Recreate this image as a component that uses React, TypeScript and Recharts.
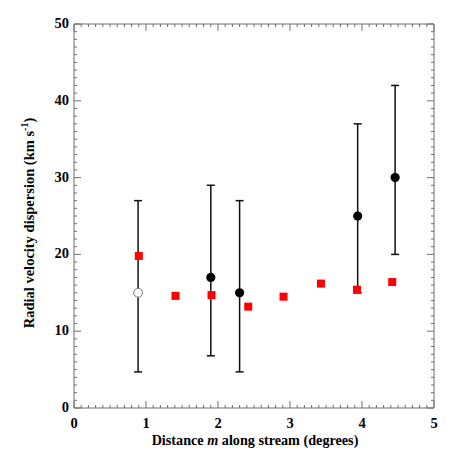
import React from 'react';
import { ScatterChart, Scatter, XAxis, YAxis, ErrorBar } from 'recharts';

// Data
const openX = [0.89];
const openY = [15];
const openLow = [4.7];
const openHigh = [27];

const filledX = [1.9, 2.3, 3.94, 4.46];
const filledY = [17, 15, 25, 30];
const filledLow = [6.8, 4.7, 15, 20];
const filledHigh = [29, 27, 37, 42];

const redX = [0.9, 1.41, 1.91, 2.42, 2.91, 3.43, 3.93, 4.42];
const redY = [19.8, 14.6, 14.7, 13.2, 14.5, 16.2, 15.4, 16.4];

const xMajorTicks = [0, 1, 2, 3, 4, 5];
const xTickLabels = ['0', '1', '2', '3', '4', '5'];
const yMajorTicks = [0, 10, 20, 30, 40, 50];
const yTickLabels = ['0', '10', '20', '30', '40', '50'];

const xMinorStep = 0.1;
const yMinorStep = 1;

const xAllTicks: number[] = [];
for (let i = 0; i <= 50; i++) xAllTicks.push(Math.round(i * xMinorStep * 10) / 10);
const yAllTicks: number[] = [];
for (let i = 0; i <= 50; i++) yAllTicks.push(i * yMinorStep);

const openData = openX.map((x, i) => ({ x, y: openY[i], err: [openY[i] - openLow[i], openHigh[i] - openY[i]] }));
const filledData = filledX.map((x, i) => ({ x, y: filledY[i], err: [filledY[i] - filledLow[i], filledHigh[i] - filledY[i]] }));
const redData = redX.map((x, i) => ({ x, y: redY[i] }));

const W = 458;
const H = 458;
const PL = 74;
const PR = 434;
const PT = 24;
const PB = 408;
const AX = 1; // axis thickness reserved
const AXIS = '#6e6e6e';
const FONT = '"Liberation Serif", "Times New Roman", serif';

const majorIdx = (v: number, arr: number[]) => arr.findIndex((m) => Math.abs(m - v) < 1e-6);

const BottomTick = (props: any) => {
  const { x, payload } = props;
  const idx = majorIdx(payload.value, xMajorTicks);
  const major = idx >= 0;
  return (
    <g>
      <line x1={x} x2={x} y1={PB} y2={PB - (major ? 7 : 3)} stroke={AXIS} strokeWidth={1} />
      {major && (
        <text x={x} y={PB + 20} textAnchor="middle" fontFamily={FONT} fontWeight="bold" fontSize={14.5} fill="#000">
          {xTickLabels[idx]}
        </text>
      )}
    </g>
  );
};

const TopTick = (props: any) => {
  const { x, payload } = props;
  const major = majorIdx(payload.value, xMajorTicks) >= 0;
  return <line x1={x} x2={x} y1={PT} y2={PT + (major ? 7 : 3)} stroke={AXIS} strokeWidth={1} />;
};

const LeftTick = (props: any) => {
  const { y, payload } = props;
  const idx = majorIdx(payload.value, yMajorTicks);
  const major = idx >= 0;
  return (
    <g>
      <line x1={PL} x2={PL + (major ? 7 : 3)} y1={y} y2={y} stroke={AXIS} strokeWidth={1} />
      {major && (
        <text x={PL - 5} y={y + 4} textAnchor="end" fontFamily={FONT} fontWeight="bold" fontSize={14.5} fill="#000">
          {yTickLabels[idx]}
        </text>
      )}
    </g>
  );
};

const RightTick = (props: any) => {
  const { y, payload } = props;
  const major = majorIdx(payload.value, yMajorTicks) >= 0;
  return <line x1={PR} x2={PR - (major ? 7 : 3)} y1={y} y2={y} stroke={AXIS} strokeWidth={1} />;
};

const FilledCircle = (props: any) => {
  const { cx, cy } = props;
  return <circle cx={cx} cy={cy} r={4.6} fill="#000" />;
};
const OpenCircle = (props: any) => {
  const { cx, cy } = props;
  return <circle cx={cx} cy={cy} r={4.4} fill="#fff" stroke="#777" strokeWidth={1} />;
};
const RedSquare = (props: any) => {
  const { cx, cy } = props;
  return <rect x={cx - 4} y={cy - 4} width={8} height={8} fill="#ff0000" />;
};

export default function App() {
  return (
    <div style={{ position: 'absolute', left: 0, top: 0, width: W, height: H, background: '#fff' }}>
      <ScatterChart
        width={W}
        height={H}
        margin={{ top: PT - AX, right: W - PR - AX, bottom: H - PB - AX, left: PL - AX }}
      >
        <XAxis
          xAxisId="bottom"
          type="number"
          dataKey="x"
          domain={[0, 5]}
          ticks={xAllTicks}
          interval={0}
          height={AX}
          orientation="bottom"
          axisLine={{ stroke: AXIS }}
          tickLine={false}
          tick={<BottomTick />}
          allowDataOverflow
        />
        <XAxis
          xAxisId="top"
          type="number"
          dataKey="x"
          domain={[0, 5]}
          ticks={xAllTicks}
          interval={0}
          height={AX}
          orientation="top"
          axisLine={{ stroke: AXIS }}
          tickLine={false}
          tick={<TopTick />}
          allowDataOverflow
        />
        <YAxis
          yAxisId="left"
          type="number"
          dataKey="y"
          domain={[0, 50]}
          ticks={yAllTicks}
          interval={0}
          width={AX}
          orientation="left"
          axisLine={{ stroke: AXIS }}
          tickLine={false}
          tick={<LeftTick />}
          allowDataOverflow
        />
        <YAxis
          yAxisId="right"
          type="number"
          dataKey="y"
          domain={[0, 50]}
          ticks={yAllTicks}
          interval={0}
          width={AX}
          orientation="right"
          axisLine={{ stroke: AXIS }}
          tickLine={false}
          tick={<RightTick />}
          allowDataOverflow
        />
        <Scatter data={openData} xAxisId="bottom" yAxisId="left" shape={<OpenCircle />} isAnimationActive={false}>
          <ErrorBar dataKey="err" direction="y" width={4} stroke="#111" strokeWidth={1.5} isAnimationActive={false} />
        </Scatter>
        <Scatter data={filledData} xAxisId="bottom" yAxisId="left" shape={<FilledCircle />} isAnimationActive={false}>
          <ErrorBar dataKey="err" direction="y" width={4} stroke="#111" strokeWidth={1.5} isAnimationActive={false} />
        </Scatter>
        <Scatter data={redData} xAxisId="top" yAxisId="right" shape={<RedSquare />} isAnimationActive={false} />
      </ScatterChart>
      <div
        style={{
          position: 'absolute',
          left: PL,
          width: PR - PL + 2,
          top: 431,
          textAlign: 'center',
          fontFamily: FONT,
          fontWeight: 'bold',
          fontSize: 14.2,
          whiteSpace: 'nowrap',
          lineHeight: '18px',
        }}
      >
        Distance <i>m</i> along stream (degrees)
      </div>
      <div
        style={{
          position: 'absolute',
          left: 29,
          top: 223,
          transform: 'translate(-50%, -50%) rotate(-90deg)',
          fontFamily: FONT,
          fontWeight: 'bold',
          fontSize: 14.5,
          whiteSpace: 'nowrap',
          lineHeight: '18px',
        }}
      >
        Radial velocity dispersion (km s<sup style={{ fontSize: 10, verticalAlign: 'super', lineHeight: 0 }}>-1</sup>)
      </div>
    </div>
  );
}
